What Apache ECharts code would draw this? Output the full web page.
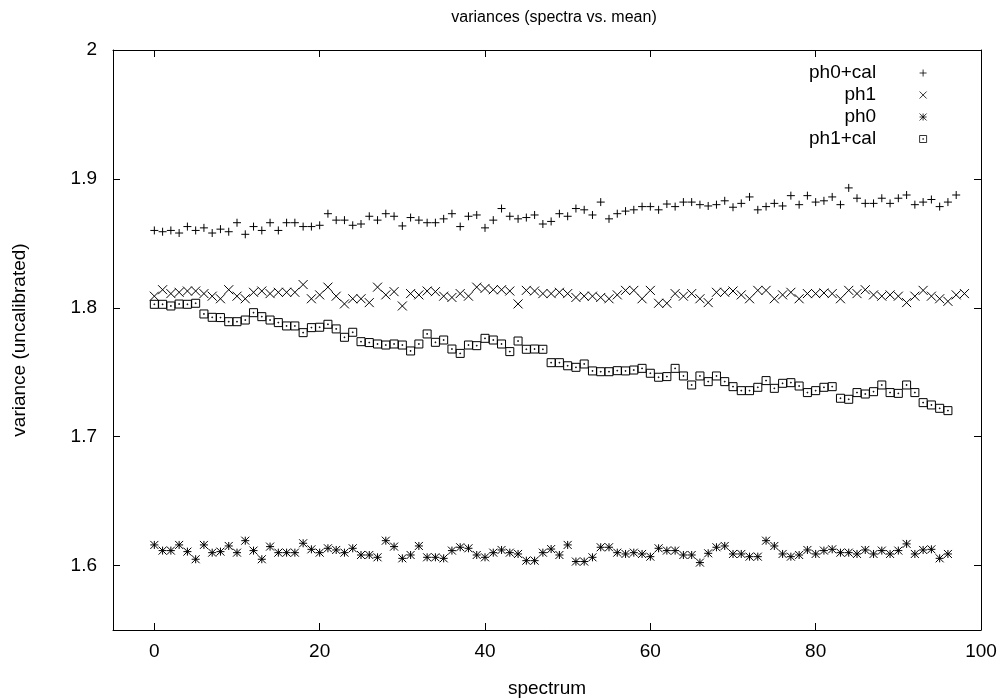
<!DOCTYPE html>
<html>
<head>
<meta charset="utf-8">
<script src="https://cdn.jsdelivr.net/npm/echarts@6/dist/echarts.min.js"></script>
<style>html,body{margin:0;padding:0;background:#fff;}#chart{width:1004px;height:700px;}</style>
</head>
<body>
<div id="chart"></div>
<script>
const titleText = 'variances (spectra vs. mean)';
const xName = 'spectrum';
const yName = 'variance (uncalibrated)';
const xTicks = [0, 20, 40, 60, 80, 100];
const yTicks = [1.6, 1.7, 1.8, 1.9, 2];
const seriesNames = ['ph0+cal', 'ph1', 'ph0', 'ph1+cal'];

const ph0cal = [1.860,1.859,1.860,1.858,1.863,1.860,1.862,1.858,1.861,1.859,
 1.866,1.857,1.863,1.860,1.866,1.860,1.866,1.866,1.863,1.863,
 1.864,1.873,1.868,1.868,1.864,1.865,1.871,1.868,1.873,1.871,
 1.8635,1.870,1.868,1.866,1.866,1.869,1.873,1.863,1.871,1.872,
 1.862,1.868,1.877,1.871,1.869,1.870,1.872,1.865,1.867,1.873,
 1.871,1.877,1.876,1.872,1.882,1.869,1.873,1.875,1.876,1.8785,
 1.8785,1.876,1.8805,1.8785,1.882,1.882,1.880,1.879,1.880,1.883,
 1.878,1.881,1.886,1.876,1.8785,1.881,1.879,1.887,1.880,1.887,
 1.882,1.883,1.886,1.880,1.893,1.885,1.881,1.881,1.885,1.881,
 1.885,1.8875,1.880,1.882,1.884,1.8785,1.882,1.8875];

const ph1 = [1.809,1.814,1.811,1.812,1.813,1.813,1.811,1.809,1.807,1.814,
 1.809,1.807,1.812,1.813,1.811,1.812,1.812,1.812,1.818,1.807,
 1.810,1.816,1.809,1.803,1.807,1.807,1.804,1.816,1.810,1.8125,
 1.8014,1.811,1.810,1.813,1.8125,1.809,1.808,1.811,1.809,1.816,
 1.815,1.814,1.814,1.813,1.803,1.8135,1.813,1.811,1.811,1.812,
 1.811,1.808,1.809,1.809,1.808,1.807,1.810,1.8135,1.8135,1.807,
 1.8135,1.8035,1.8035,1.811,1.809,1.811,1.807,1.804,1.812,1.812,
 1.813,1.810,1.807,1.8135,1.8135,1.807,1.810,1.812,1.807,1.811,
 1.811,1.8115,1.811,1.807,1.8135,1.811,1.814,1.810,1.809,1.810,
 1.809,1.804,1.809,1.8135,1.809,1.807,1.805,1.810,1.811];

const ph0 = [1.616,1.6116,1.6116,1.616,1.6108,1.6049,1.616,1.610,1.6108,1.6152,
 1.610,1.6193,1.6116,1.6049,1.6147,1.610,1.610,1.610,1.6173,1.6126,
 1.610,1.6134,1.6121,1.610,1.6134,1.6082,1.6082,1.6064,1.6193,1.6147,
 1.6056,1.6082,1.6152,1.6064,1.6064,1.6056,1.6116,1.6142,1.6134,1.6082,
 1.6064,1.610,1.6121,1.610,1.609,1.6038,1.6038,1.610,1.6128,1.6082,
 1.616,1.6031,1.6031,1.6064,1.6142,1.6142,1.610,1.609,1.610,1.609,
 1.6069,1.6134,1.6116,1.6116,1.6082,1.6082,1.6023,1.6095,1.6142,1.6152,
 1.609,1.609,1.6069,1.6069,1.6193,1.6152,1.609,1.6069,1.6082,1.6121,
 1.609,1.6116,1.6126,1.610,1.610,1.609,1.6121,1.609,1.6116,1.609,
 1.6116,1.6168,1.609,1.6121,1.6126,1.6056,1.609];

const ph1cal = [1.8027,1.8027,1.8014,1.8029,1.8027,1.8035,1.7952,1.7926,1.7924,1.7892,
 1.7892,1.7905,1.7962,1.7931,1.7905,1.7885,1.7859,1.7859,1.7807,1.7846,
 1.7849,1.7872,1.7836,1.7771,1.7810,1.7737,1.7730,1.7719,1.7711,1.7719,
 1.7711,1.7665,1.7719,1.7797,1.7732,1.7750,1.7680,1.7646,1.7711,1.7706,
 1.7763,1.7750,1.7719,1.7660,1.7742,1.7678,1.7680,1.7678,1.7574,1.7574,
 1.7550,1.7538,1.7564,1.7510,1.7504,1.7504,1.7512,1.7510,1.7517,1.7530,
 1.7492,1.7461,1.7466,1.7530,1.7471,1.7401,1.7471,1.7427,1.7471,1.7427,
 1.7388,1.7357,1.7357,1.7383,1.7435,1.7375,1.7414,1.7419,1.7393,1.7342,
 1.7357,1.7383,1.7388,1.7298,1.7290,1.7342,1.7331,1.7349,1.7401,1.7342,
 1.7336,1.7401,1.7342,1.7264,1.7246,1.7220,1.7202];

const FONT = '"Liberation Sans", Arial, Helvetica, sans-serif';
const SYM = {
  plus: 'path://M5,0L5,10M0,5L10,5',
  cross: 'path://M0,0L10,10M10,0L0,10',
  star: 'path://M5,0L5,10M0,5L10,5M0,0L10,10M10,0L0,10',
  box: 'path://M0,0L10,0L10,10L0,10ZM4.5,4.5L5.5,4.5L5.5,5.5L4.5,5.5Z'
};
function pts(arr) { return arr.map((v, i) => [i, v]); }
function mk(name, arr, sym, size) {
  return {
    name: name, type: 'scatter', data: pts(arr), symbol: sym, symbolSize: size,
    itemStyle: { color: 'rgba(0,0,0,0)', borderColor: '#000', borderWidth: 1, opacity: 1 },
    emphasis: { disabled: true }, animation: false, silent: true
  };
}
const axisLine = { show: true, onZero: false, lineStyle: { color: '#000', width: 1 } };
const chart = echarts.init(document.getElementById('chart'), null, { renderer: 'canvas' });
chart.setOption({
  backgroundColor: '#fff',
  animation: false,
  title: {
    text: titleText, left: 549, top: 5, textAlign: 'center',
    textStyle: { fontFamily: FONT, fontSize: 16, fontWeight: 'normal', color: '#000' }
  },
  legend: {
    orient: 'vertical', align: 'right', right: 77, top: 62, padding: 0,
    itemWidth: 84, itemHeight: 7, itemGap: 0, symbolKeepAspect: true,
    itemStyle: { color: 'rgba(0,0,0,0)', borderColor: '#000', borderWidth: 0.8 },
    textStyle: { fontFamily: FONT, fontSize: 19, color: '#000', lineHeight: 22 },
    data: seriesNames
  },
  grid: { left: 113, right: 23, top: 50, bottom: 70, containLabel: false, outerBoundsMode: 'none' },
  xAxis: [{
    type: 'value', min: -5, max: 100, position: 'bottom',
    name: xName, nameLocation: 'middle', nameGap: 49,
    nameTextStyle: { fontFamily: FONT, fontSize: 19, color: '#000' },
    axisLine: axisLine,
    axisTick: { show: true, inside: true, length: 7, customValues: xTicks, lineStyle: { color: '#000' } },
    axisLabel: { show: true, customValues: xTicks, margin: 12, fontFamily: FONT, fontSize: 19, color: '#000', formatter: v => String(v) },
    splitLine: { show: false }
  }, {
    type: 'value', min: -5, max: 100, position: 'top',
    axisLine: axisLine,
    axisTick: { show: true, inside: true, length: 7, customValues: xTicks, lineStyle: { color: '#000' } },
    axisLabel: { show: false }, splitLine: { show: false }
  }],
  yAxis: [{
    type: 'value', min: 1.55, max: 2, position: 'left',
    name: yName, nameLocation: 'middle', nameGap: 84,
    nameTextStyle: { fontFamily: FONT, fontSize: 19, color: '#000' },
    axisLine: axisLine,
    axisTick: { show: true, inside: true, length: 7, customValues: yTicks, lineStyle: { color: '#000' } },
    axisLabel: { show: true, customValues: yTicks, margin: 16, fontFamily: FONT, fontSize: 19, color: '#000', formatter: v => String(v) },
    splitLine: { show: false }
  }, {
    type: 'value', min: 1.55, max: 2, position: 'right',
    axisLine: axisLine,
    axisTick: { show: true, inside: true, length: 7, customValues: yTicks, lineStyle: { color: '#000' } },
    axisLabel: { show: false }, splitLine: { show: false }
  }],
  series: [
    mk(seriesNames[0], ph0cal, SYM.plus, 8),
    mk(seriesNames[1], ph1, SYM.cross, 9),
    mk(seriesNames[2], ph0, SYM.star, 8),
    mk(seriesNames[3], ph1cal, SYM.box, 8)
  ]
});
</script>
</body>
</html>
